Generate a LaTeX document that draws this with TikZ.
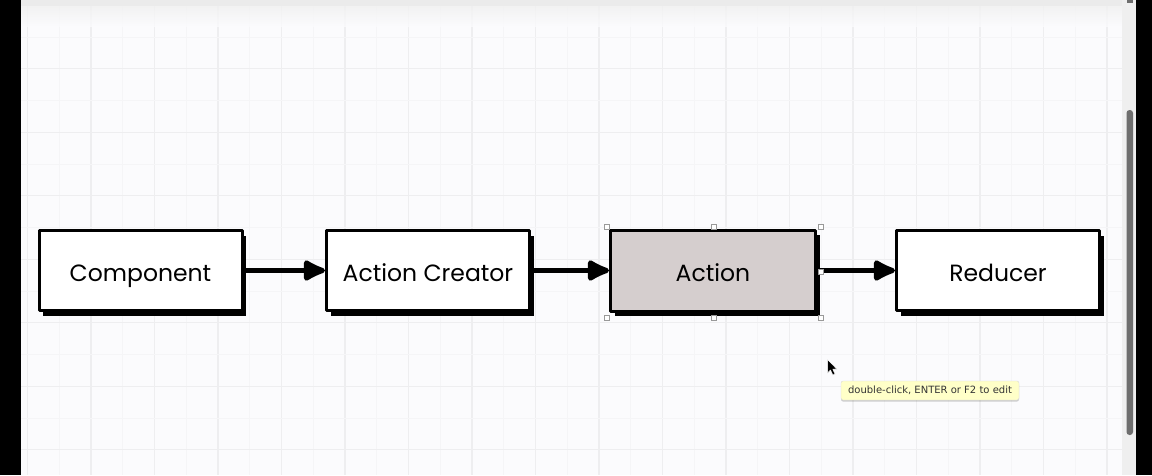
\documentclass[tikz,border=0pt]{standalone}
\usepackage{fontspec}
\setmainfont{Poppins}
\newfontfamily\tipfont{DejaVu Sans}
\usetikzlibrary{shadows,arrows.meta}
\definecolor{canvasbg}{HTML}{FBFBFD}
\definecolor{gridminor}{HTML}{F5F5F7}
\definecolor{gridmajor}{HTML}{EEEEF0}
\definecolor{actionfill}{HTML}{D5CECE}
\definecolor{tipfill}{HTML}{FFFFC8}
\definecolor{trackgray}{HTML}{EFEFEF}
\definecolor{thumbgray}{HTML}{6E6E6E}
\tikzset{
  flowbox/.style={draw=black, line width=3pt, fill=white, minimum width=203pt, minimum height=80pt,
    line join=round, font=\fontsize{23.5}{26}\selectfont, text height=22pt, text depth=1pt,
    drop shadow={shadow xshift=4pt, shadow yshift=-5pt, fill=black, opacity=1}},
  flowarrow/.style={line width=5pt, -{Latex[length=27pt,width=25pt,round]}},
  handle/.style={draw=gray!80, fill=white, line width=0.6pt, minimum size=5pt, inner sep=0pt},
}
\begin{document}
\begin{tikzpicture}[x=1pt,y=-1pt]
\useasboundingbox (0,0) rectangle (1152,475);
% canvas
\fill[canvasbg] (21,0) rectangle (1122,475);
\begin{scope}
\clip (21,0) rectangle (1122,475);
\foreach \i in {0,...,34} {
  \pgfmathsetmacro{\xx}{27.5+31.75*\i}
  \pgfmathtruncatemacro{\ev}{mod(\i,2)}
  \ifnum\ev=0 \draw[gridmajor, line width=1.2pt] (\xx,0) -- (\xx,475);
  \else \draw[gridminor, line width=1pt] (\xx,0) -- (\xx,475); \fi
}
\foreach \j in {0,...,15} {
  \pgfmathsetmacro{\yy}{5.25+31.75*\j}
  \pgfmathtruncatemacro{\ev}{mod(\j,2)}
  \ifnum\ev=0 \draw[gridmajor, line width=1.2pt] (21,\yy) -- (1122,\yy);
  \else \draw[gridminor, line width=1pt] (21,\yy) -- (1122,\yy); \fi
}
\fill[black!8] (21,0) rectangle (1122,6);
\shade[top color=black!6, bottom color=canvasbg, opacity=0.8] (21,6) rectangle (1122,26);
\end{scope}
% side bars and scrollbar
\fill[black] (0,0) rectangle (21,475);
\fill[trackgray] (1122,0) rectangle (1136,475);
\fill[thumbgray, rounded corners=3pt] (1126.5,110) rectangle (1133,435);
\fill[thumbgray] (1126.5,0) rectangle (1133,3);
\fill[black] (1136,0) rectangle (1152,475);
% boxes
\node[flowbox] (comp) at (140.5,270.5) {Component};
\node[flowbox] (creator) at (428,270.5) {Action Creator};
\node[flowbox, fill=actionfill, minimum width=205pt, minimum height=81pt] (action) at (713,270.5) {Action};
\node[flowbox] (reducer) at (998,270.5) {Reducer};
% arrows
\draw[flowarrow] (comp.east) -- (creator.west);
\draw[flowarrow] (creator.east) -- (action.west);
\draw[flowarrow] (action.east) -- (reducer.west);
% selection handles
\node[handle] (h1) at (607,227) {};
\node[handle] (h2) at (714,227) {};
\node[handle] (h3) at (821,227) {};
\node[handle] (h4) at (607,318) {};
\node[handle] (h5) at (714,318) {};
\node[handle] (h6) at (821,318) {};
\node[handle] (h7) at (821,272) {};
% cursor
\filldraw[fill=black, draw=white, line width=0.5pt, line join=round]
  (827.5,359.5) -- (827.5,373) -- (830.5,370) -- (832.8,375) -- (835,374) -- (832.8,369.2) -- (837,369.2) -- cycle;
% tooltip
\node[draw=black!15, fill=tipfill, rounded corners=2pt, minimum width=178pt, minimum height=19pt, inner sep=0pt,
  drop shadow={shadow xshift=0pt, shadow yshift=-1.5pt, fill=black, opacity=0.18}, text=black!80,
  font=\tipfont\fontsize{10}{12}\selectfont] (tip) at (930,390.5) {double-click, ENTER or F2 to edit};
\end{tikzpicture}
\end{document}
